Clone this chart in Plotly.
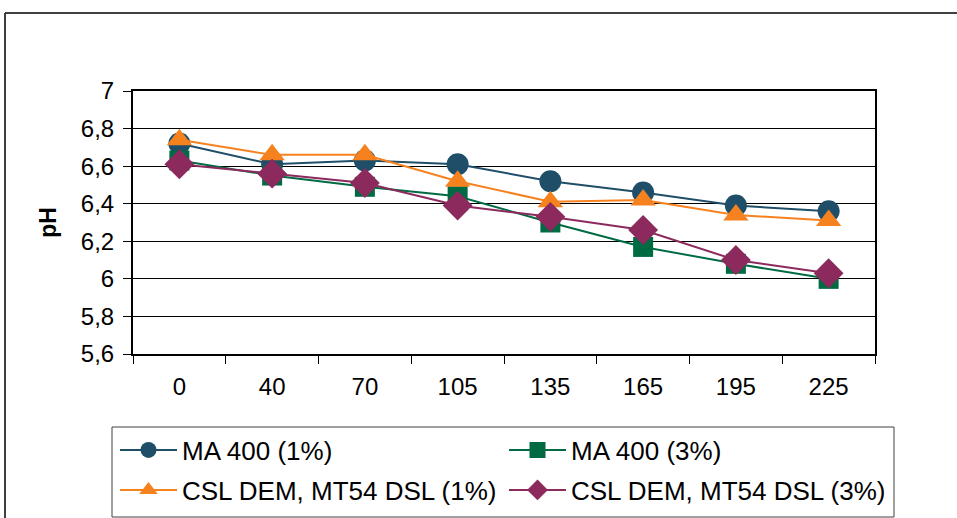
import plotly.graph_objects as go

# Sampling times (categories) and pH readings per treatment
times = ["0", "40", "70", "105", "135", "165", "195", "225"]
ma400_1 = [6.72, 6.61, 6.63, 6.61, 6.52, 6.46, 6.39, 6.36]
ma400_3 = [6.63, 6.55, 6.49, 6.44, 6.30, 6.17, 6.08, 6.00]
csl_1 = [6.74, 6.66, 6.66, 6.52, 6.41, 6.42, 6.34, 6.31]
csl_3 = [6.61, 6.56, 6.51, 6.39, 6.33, 6.26, 6.10, 6.03]

y_ticks = [5.6, 5.8, 6.0, 6.2, 6.4, 6.6, 6.8, 7.0]
y_tick_text = ["5,6", "5,8", "6", "6,2", "6,4", "6,6", "6,8", "7"]

# name, values, colour, marker symbol, marker size, legend row
series = [
    ("MA 400 (1%)", ma400_1, "#1f4e68", "circle", 22, "legend"),
    ("MA 400 (3%)", ma400_3, "#006b43", "square", 20, "legend"),
    ("CSL DEM, MT54 DSL (1%)", csl_1, "#f5821f", "triangle-up", 22, "legend2"),
    ("CSL DEM, MT54 DSL (3%)", csl_3, "#8c2a5e", "diamond", 23, "legend2"),
]

FONT = "Liberation Sans, Arial, sans-serif"

fig = go.Figure()
for name, vals, color, symbol, size, leg in series:
    fig.add_trace(go.Scatter(
        x=times, y=vals, name=name, mode="lines+markers",
        line=dict(color=color, width=2),
        marker=dict(symbol=symbol, size=size, color=color,
                    line=dict(width=0)),
        cliponaxis=False, legend=leg,
    ))

W, H = 957, 518
L, R, T, B = 133, 82, 91, 164
pw, ph = W - L - R, H - T - B


def px_x(v):
    return (v - L) / pw


def px_y(v):
    return (H - B - v) / ph


legend_style = dict(
    orientation="h", xanchor="left", yanchor="middle",
    entrywidth=317, entrywidthmode="pixels", itemwidth=57,
    bgcolor="rgba(0,0,0,0)", borderwidth=0,
    font=dict(family=FONT, size=26, color="black"),
)

fig.update_layout(
    width=W, height=H,
    margin=dict(l=L, r=R, t=T, b=B, autoexpand=False),
    paper_bgcolor="white", plot_bgcolor="white",
    font=dict(family=FONT, size=24, color="black"),
    showlegend=True,
    legend=dict(x=px_x(115), y=px_y(450), **legend_style),
    legend2=dict(x=px_x(115), y=px_y(490), **legend_style),
    xaxis=dict(
        type="category", tickson="boundaries",
        ticks="outside", ticklen=8, tickcolor="black", tickwidth=1,
        showline=True, linecolor="black", linewidth=2, mirror=True,
        showgrid=False, ticklabelstandoff=10,
        tickfont=dict(family=FONT, size=24, color="black"),
        range=[-0.5, 7.5],
    ),
    yaxis=dict(
        range=[5.6, 7.0], tickvals=y_ticks, ticktext=y_tick_text,
        ticks="outside", ticklen=8, tickcolor="black", tickwidth=1,
        showline=True, linecolor="black", linewidth=2, mirror=True,
        showgrid=True, gridcolor="black", gridwidth=1,
        zeroline=False, ticklabelstandoff=4,
        tickfont=dict(family=FONT, size=24, color="black"),
        title=dict(text="<b>pH</b>", font=dict(family=FONT, size=23),
                   standoff=18),
    ),
    shapes=[
        # outer chart frame, running past the right and bottom page edges
        dict(type="line", xref="paper", yref="paper",
             x0=px_x(5), x1=px_x(5), y0=px_y(13), y1=px_y(530),
             line=dict(color="#404040", width=2)),
        dict(type="line", xref="paper", yref="paper",
             x0=px_x(5), x1=px_x(970), y0=px_y(13), y1=px_y(13),
             line=dict(color="#404040", width=2)),
        # legend box
        dict(type="rect", xref="paper", yref="paper", layer="above",
             x0=px_x(112), x1=px_x(894), y0=px_y(517), y1=px_y(427),
             fillcolor="white", line=dict(color="#404040", width=1)),
    ],
)

fig.write_html("out.html")
